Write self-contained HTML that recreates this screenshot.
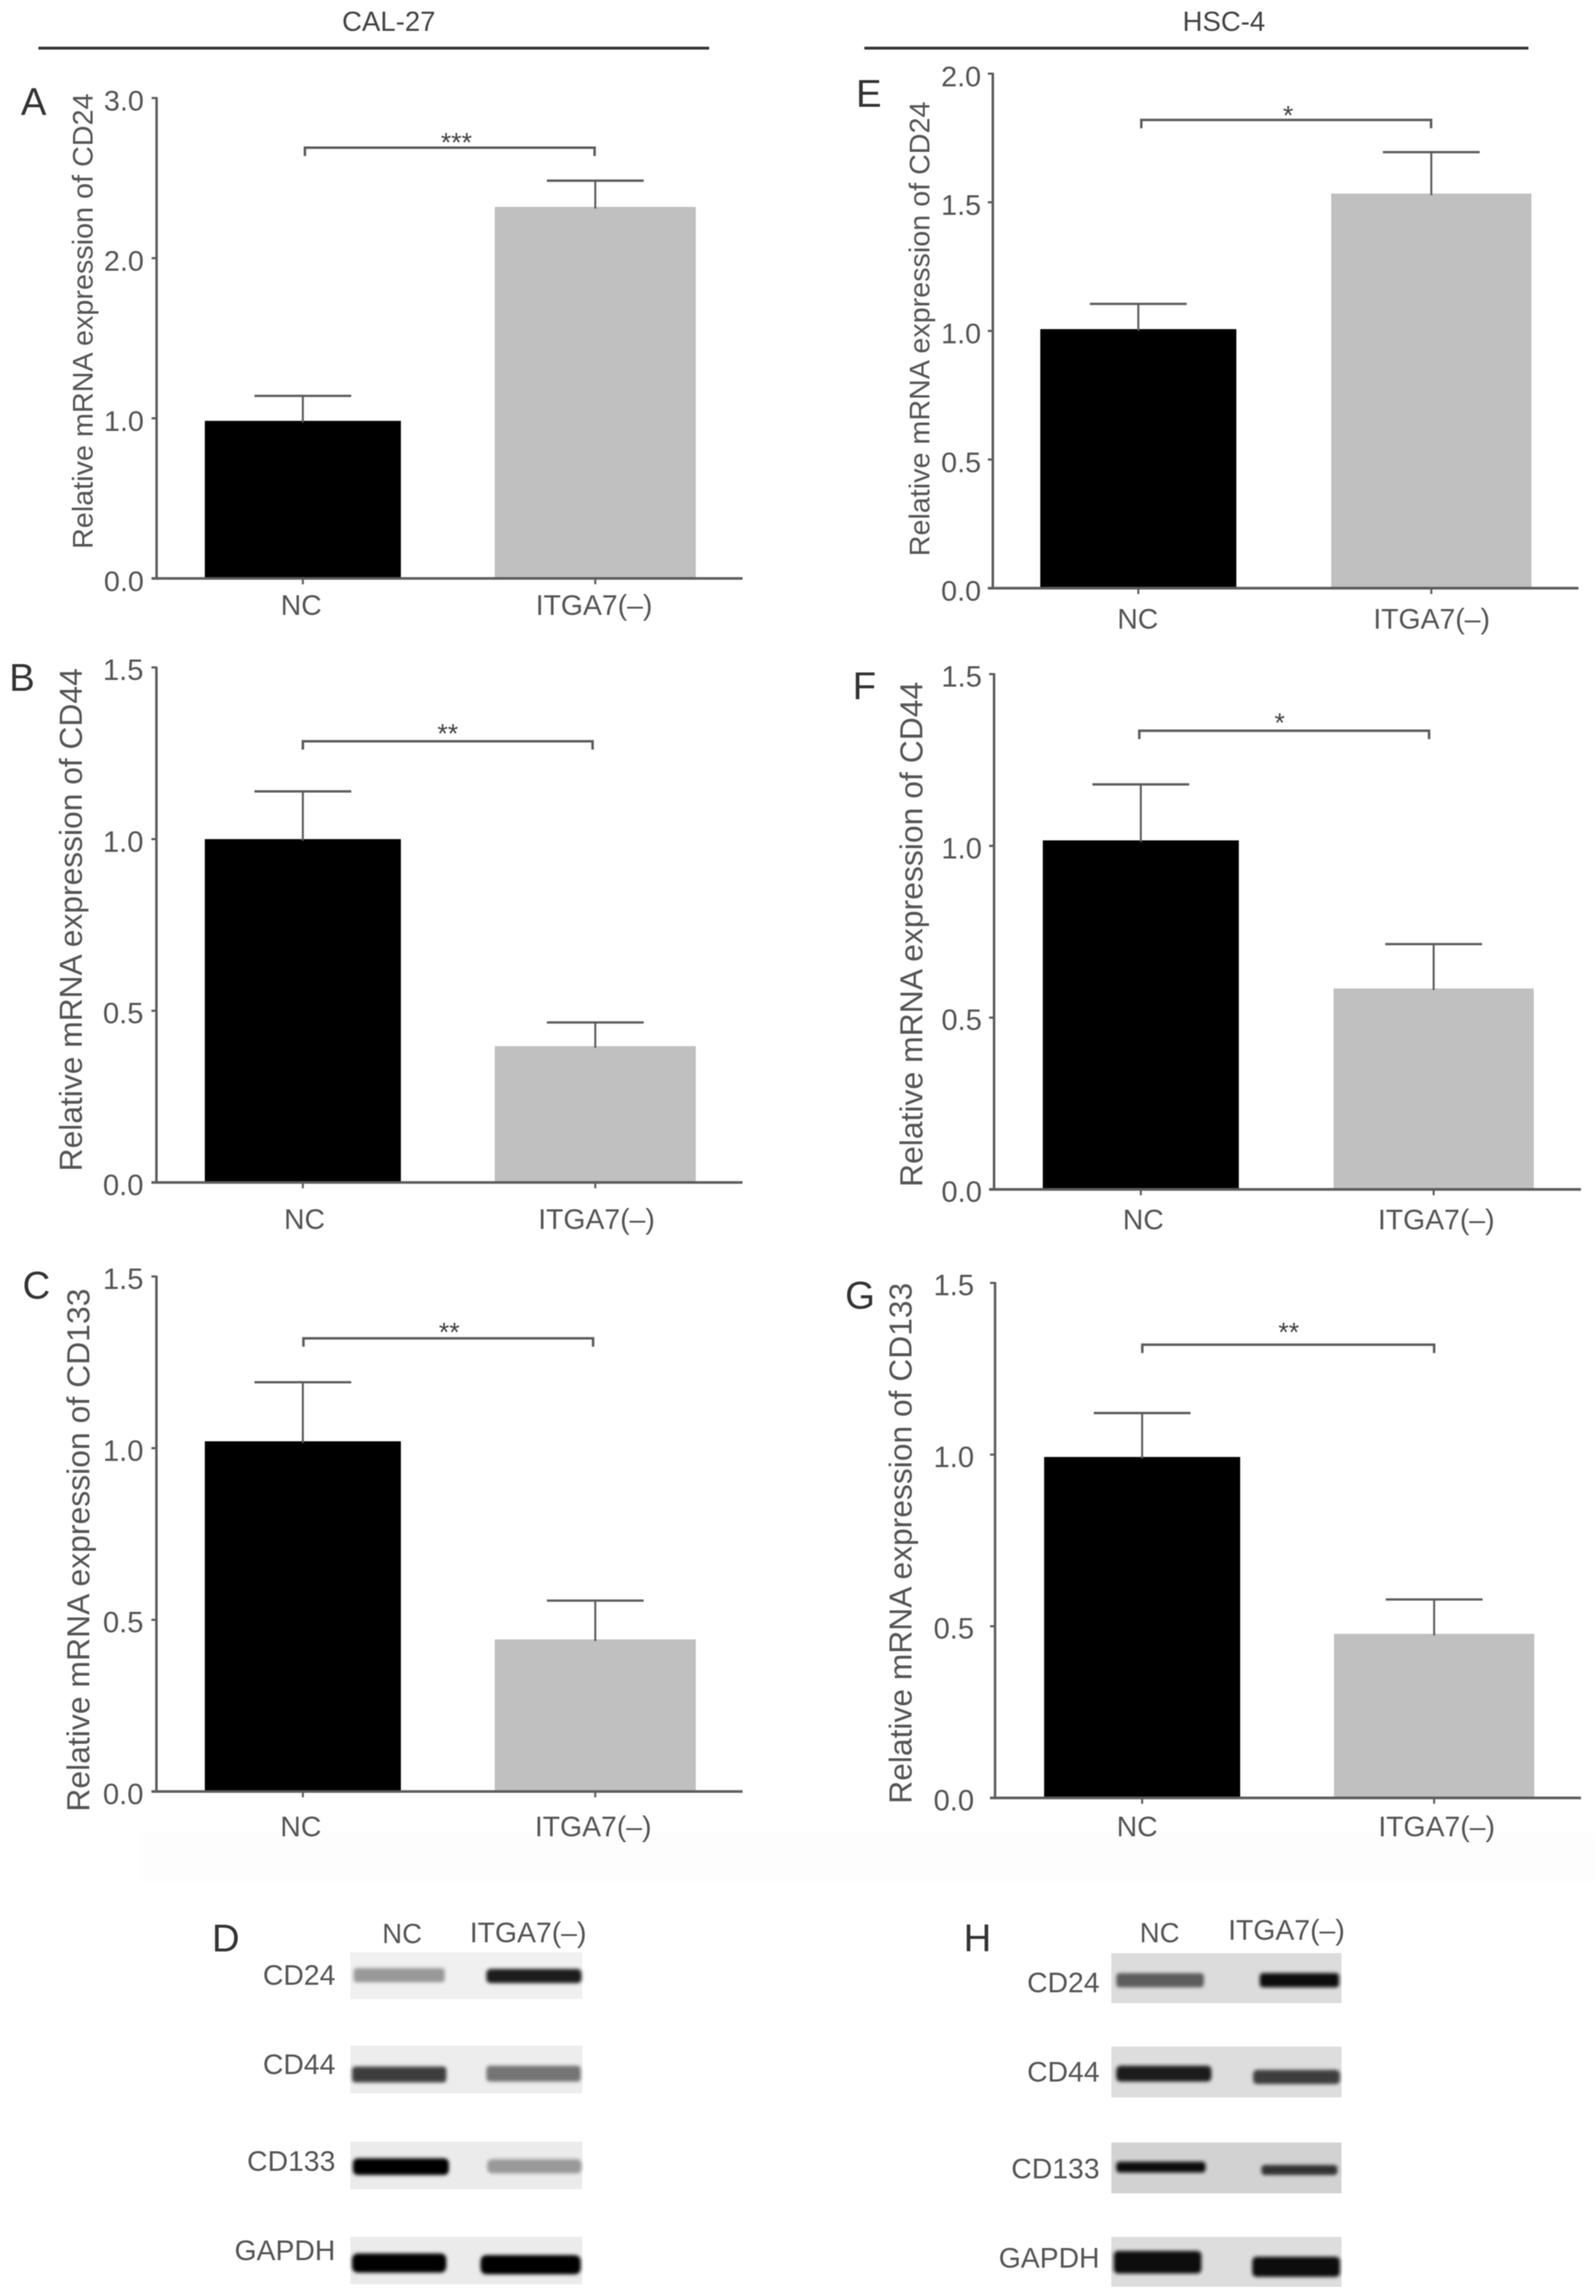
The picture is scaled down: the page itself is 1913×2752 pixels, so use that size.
<!DOCTYPE html>
<html lang="en">
<head>
<meta charset="utf-8">
<title>ITGA7 knockdown: CD24, CD44, CD133 mRNA expression</title>
<style>
html,body{margin:0;padding:0;background:#fff;width:1913px;height:2752px;overflow:hidden}
svg{display:block;filter:blur(0.6px)}
text{font-family:"Liberation Sans",sans-serif;fill:#555}
.blotlabel{font-size:34px;text-anchor:end}
.lane{font-size:33px;text-anchor:middle}
.letter{font-size:46px;fill:#333}
.head{font-size:33px;text-anchor:middle;fill:#444}
</style>
</head>
<body>
<svg id="figure" xmlns="http://www.w3.org/2000/svg" width="1913" height="2752" viewBox="0 0 1913 2752">
  <defs>
    <filter id="bandBlur" x="-10%" y="-50%" width="120%" height="200%"><feGaussianBlur stdDeviation="2"/></filter>
  </defs>
  <rect x="0" y="0" width="1913" height="2752" fill="#fff"/>
  <rect x="168" y="2197" width="1745" height="58" fill="#fdfdfd"/>

  <g id="charts"></g>

  <g>
    <text class="head" x="466" y="37">CAL-27</text>
    <rect x="46" y="56" width="804" height="3.4" fill="#333"/>
    <text class="head" x="1467" y="37">HSC-4</text>
    <rect x="1036" y="56" width="796" height="3.4" fill="#333"/>
  </g>

  <g>
    <text class="letter" x="254" y="2339">D</text>
    <text class="lane" x="482" y="2329">NC</text>
    <text class="lane" x="633" y="2328" style="font-size:34px">ITGA7(–)</text>
    <text class="blotlabel" x="402" y="2379">CD24</text>
    <text class="blotlabel" x="402" y="2486">CD44</text>
    <text class="blotlabel" x="402" y="2602">CD133</text>
    <text class="blotlabel" x="402" y="2709">GAPDH</text>
    <rect x="420" y="2340" width="278" height="56" fill="#f0f0f0"/>
    <rect x="420" y="2452" width="278" height="57" fill="#ededed"/>
    <rect x="420" y="2567" width="278" height="57" fill="#ebebeb"/>
    <rect x="420" y="2681" width="278" height="57" fill="#ebebeb"/>
    <g filter="url(#bandBlur)">
      <rect x="424" y="2359" width="109" height="17" rx="3" fill="#999"/>
      <rect x="583" y="2360" width="114" height="17" rx="5" fill="#1c1c1c"/>
      <rect x="422" y="2477" width="113" height="19" rx="4" fill="#3c3c3c"/>
      <rect x="583" y="2476" width="113" height="19" rx="4" fill="#747474"/>
      <rect x="423" y="2587" width="115" height="20" rx="6" fill="#000"/>
      <rect x="584" y="2588" width="113" height="17" rx="6" fill="#999"/>
      <rect x="422" y="2701" width="113" height="23" rx="7" fill="#000"/>
      <rect x="576" y="2703" width="120" height="23" rx="7" fill="#000"/>
    </g>
  </g>

  <g>
    <text class="letter" x="1155" y="2339">H</text>
    <text class="lane" x="1390" y="2328">NC</text>
    <text class="lane" x="1542" y="2325" style="font-size:34px">ITGA7(–)</text>
    <text class="blotlabel" x="1318" y="2388">CD24</text>
    <text class="blotlabel" x="1318" y="2495">CD44</text>
    <text class="blotlabel" x="1318" y="2611">CD133</text>
    <text class="blotlabel" x="1318" y="2718">GAPDH</text>
    <rect x="1332" y="2341" width="276" height="60" fill="#dcdcdc"/>
    <rect x="1332" y="2453" width="276" height="61" fill="#dddddd"/>
    <rect x="1332" y="2568" width="276" height="61" fill="#d2d2d2"/>
    <rect x="1332" y="2681" width="276" height="60" fill="#dddddd"/>
    <g filter="url(#bandBlur)">
      <rect x="1338" y="2365" width="105" height="17" rx="4" fill="#5c5c5c"/>
      <rect x="1510" y="2365" width="95" height="17" rx="4" fill="#0c0c0c"/>
      <rect x="1338" y="2476" width="114" height="19" rx="5" fill="#1c1c1c"/>
      <rect x="1502" y="2481" width="104" height="17" rx="5" fill="#3c3c3c"/>
      <rect x="1338" y="2591" width="107" height="13" rx="4" fill="#0a0a0a"/>
      <rect x="1512" y="2595" width="91" height="12" rx="4" fill="#333"/>
      <rect x="1335" y="2698" width="105" height="27" rx="5" fill="#0c0c0c"/>
      <rect x="1501" y="2705" width="105" height="24" rx="5" fill="#0c0c0c"/>
    </g>
  </g>
</svg>

<script>
// ---- chart data ----
const categories = ['NC', 'ITGA7(–)'];
const ticksA = [0, 1, 2, 3];
const tickLabelsA = ['0.0', '1.0', '2.0', '3.0'];
const ticksE = [0, 0.5, 1, 1.5, 2];
const tickLabelsE = ['0.0', '0.5', '1.0', '1.5', '2.0'];
const ticksStd = [0, 0.5, 1, 1.5];
const tickLabelsStd = ['0.0', '0.5', '1.0', '1.5'];

const meansA = [0.984, 2.32];
const upperA = [1.14, 2.484];
const meansB = [1.0, 0.397];
const upperB = [1.139, 0.466];
const meansC = [1.02, 0.443];
const upperC = [1.192, 0.556];
const meansE = [1.007, 1.534];
const upperE = [1.105, 1.695];
const meansF = [1.016, 0.585];
const upperF = [1.179, 0.714];
const meansG = [0.993, 0.478];
const upperG = [1.121, 0.578];

const sigLevelA = 2.69;
const sigLevelB = 1.285;
const sigLevelC = 1.32;
const sigLevelE = 1.82;
const sigLevelF = 1.335;
const sigLevelG = 1.32;

const colors = ['#000000', '#c0c0c0'];

// ---- layout of each panel (pixels) ----
const panels = [
  {id:'a', letter:'A', lx:25, ly:138, ttl:'Relative mRNA expression of CD24', tx:111, t0:658, tlen:546, tfs:34.4,
   ax:187.7, xe:890, y0:693.3, yt:117.5, ymax:3, ticks:ticksA, labels:tickLabelsA, lr:172.5, lfs:34.5,
   c0:363, c1:713.5, bw:[235,241], means:meansA, upper:upperA, sig:sigLevelA, br:[365.5,712.7], star:'***', sx:547, sy:164,
   nc:[361,712], cy:737},
  {id:'b', letter:'B', lx:11, ly:828, ttl:'Relative mRNA expression of CD44', tx:98, t0:1404, tlen:603, tfs:38,
   ax:187.5, xe:890, y0:1417.3, yt:800, ymax:1.5, ticks:ticksStd, labels:tickLabelsStd, lr:172, lfs:35,
   c0:363, c1:713.5, bw:[235,241], means:meansB, upper:upperB, sig:sigLevelB, br:[363,710.3], star:'**', sx:536.7, sy:872.7,
   nc:[365,715], cy:1473},
  {id:'c', letter:'C', lx:27, ly:1556.5, ttl:'Relative mRNA expression of CD133', tx:107, t0:2171.5, tlen:627, tfs:38,
   ax:187.5, xe:890, y0:2147.3, yt:1530, ymax:1.5, ticks:ticksStd, labels:tickLabelsStd, lr:172, lfs:35,
   c0:363, c1:713.5, bw:[235,241], means:meansC, upper:upperC, sig:sigLevelC, br:[363.7,710.9], star:'**', sx:538.5, sy:1590,
   nc:[360.6,711], cy:2201},
  {id:'e', letter:'E', lx:1026, ly:128, ttl:'Relative mRNA expression of CD24', tx:1114, t0:666.7, tlen:545, tfs:34.4,
   ax:1190, xe:1892, y0:705, yt:88.3, ymax:2, ticks:ticksE, labels:tickLabelsE, lr:1176, lfs:34.5,
   c0:1364.4, c1:1715.6, bw:[235,240], means:meansE, upper:upperE, sig:sigLevelE, br:[1368,1715.3], star:'*', sx:1544, sy:131.6,
   nc:[1363.8,1716], cy:753.6},
  {id:'f', letter:'F', lx:1022, ly:838, ttl:'Relative mRNA expression of CD44', tx:1105.7, t0:1422.7, tlen:605.6, tfs:38,
   ax:1191.5, xe:1895, y0:1425.6, yt:808, ymax:1.5, ticks:ticksStd, labels:tickLabelsStd, lr:1177, lfs:35,
   c0:1367.4, c1:1718.4, bw:[235,240], means:meansF, upper:upperF, sig:sigLevelF, br:[1365.6,1712.9], star:'*', sx:1533.8, sy:859.5,
   nc:[1370.4,1721.5], cy:1473.6},
  {id:'g', letter:'G', lx:1013, ly:1568.3, ttl:'Relative mRNA expression of CD133', tx:1092.4, t0:2162, tlen:624.4, tfs:38,
   ax:1192.7, xe:1895, y0:2155, yt:1537.7, ymax:1.5, ticks:ticksStd, labels:tickLabelsStd, lr:1167.6, lfs:35,
   c0:1369, c1:1719, bw:[235,240], means:meansG, upper:upperG, sig:sigLevelG, br:[1369.2,1719], star:'**', sx:1544.7, sy:1590,
   nc:[1363,1722], cy:2201}
];

const NS = 'http://www.w3.org/2000/svg';
const chartsRoot = document.getElementById('charts');
const CAP_HALF = 58;
const AXIS_COLOR = '#5c5c5c';

function mk(tag, attrs, parent, content) {
  const node = document.createElementNS(NS, tag);
  Object.keys(attrs).forEach(function (k) { node.setAttribute(k, attrs[k]); });
  if (content !== undefined) node.textContent = content;
  parent.appendChild(node);
  return node;
}

panels.forEach(function (p) {
  const yScale = function (v) { return p.y0 - (v / p.ymax) * (p.y0 - p.yt); };
  const xScale = function (i) { return p.c0 + i * (p.c1 - p.c0); };

  const g = mk('g', {}, chartsRoot);
  
  

  const letter = mk('text', {x: p.lx, y: p.ly, 'font-size': 46, style: 'fill:#333'}, g, p.letter);
  
  

  const title = mk('text', {
    transform: 'translate(' + p.tx + ',' + p.t0 + ') rotate(-90)',
    x: 0, y: 0, 'font-size': p.tfs, textLength: p.tlen, lengthAdjust: 'spacingAndGlyphs'
  }, g, p.ttl);
  
  

  // bars
  categories.forEach(function (cat, i) {
    const cx = xScale(i);
    const top = yScale(p.means[i]);
    const bar = mk('rect', {x: cx - p.bw[i] / 2, y: top, width: p.bw[i], height: p.y0 - top, fill: colors[i]}, g);
    
    
  });

  // error bars
  categories.forEach(function (cat, i) {
    const cx = xScale(i);
    const errTop = yScale(p.upper[i]);
    const stem = mk('line', {x1: cx, x2: cx, y1: yScale(p.means[i]) + 2, y2: errTop, stroke: AXIS_COLOR, 'stroke-width': 2.4}, g);
    
    
    const cap = mk('line', {x1: cx - CAP_HALF, x2: cx + CAP_HALF, y1: errTop, y2: errTop, stroke: AXIS_COLOR, 'stroke-width': 2.8}, g);
    
    
  });

  // y axis
  const yLine = mk('line', {x1: p.ax, x2: p.ax, y1: p.yt - 1, y2: p.y0 + 1, stroke: AXIS_COLOR, 'stroke-width': 3}, g);
  
  

  p.ticks.forEach(function (t, i) {
    const y = yScale(t);
    const tick = mk('line', {x1: p.ax - 6, x2: p.ax, y1: y, y2: y, stroke: AXIS_COLOR, 'stroke-width': 2.6}, g);
    
    
    const label = mk('text', {x: p.lr, y: y + 15, 'font-size': p.lfs, 'text-anchor': 'end'}, g, p.labels[i]);
    
    
  });

  // x axis
  const xLine = mk('line', {x1: p.ax - 6, x2: p.xe, y1: p.y0, y2: p.y0, stroke: AXIS_COLOR, 'stroke-width': 3.2}, g);
  
  

  categories.forEach(function (cat, i) {
    const cx = xScale(i);
    const tick = mk('line', {x1: cx, x2: cx, y1: p.y0, y2: p.y0 + 7, stroke: AXIS_COLOR, 'stroke-width': 2.4}, g);
    
    
    const label = mk('text', {x: p.nc[i], y: p.cy, 'font-size': 34, 'text-anchor': 'middle'}, g, cat);
    
    
  });

  // significance bracket
  const by = yScale(p.sig);
  const bracket = mk('path', {
    d: 'M' + p.br[0] + ' ' + (by + 10) + 'V' + by + 'H' + p.br[1] + 'V' + (by + 10),
    fill: 'none', stroke: AXIS_COLOR, 'stroke-width': 3
  }, g);
  
  

  const stars = mk('text', {x: p.sx, y: p.sy + 18, 'font-size': 32, 'text-anchor': 'middle', style: 'fill:#444'}, g, p.star);
  
  
});
</script>
</body>
</html>
